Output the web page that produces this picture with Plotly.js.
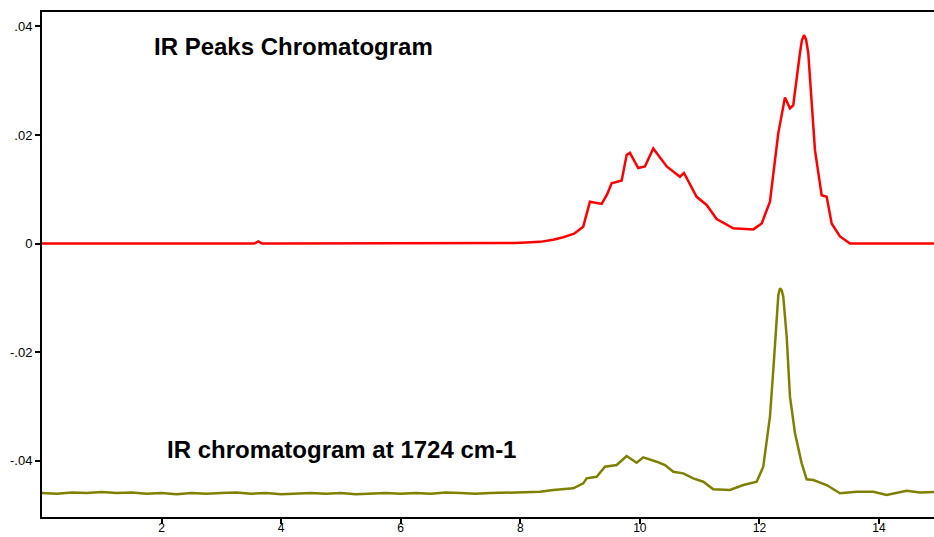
<!DOCTYPE html>
<html>
<head>
<meta charset="utf-8">
<script src="https://cdn.plot.ly/plotly-3.0.1.min.js"></script>
<style>html,body{margin:0;padding:0;background:#fff;}#chart{width:934px;height:537px;}</style>
</head>
<body>
<div id="chart"></div>
<script>
// Retention time (minutes) and absorbance for the IR Peaks chromatogram (red)
const redX = [0, 1, 2, 3, 3.55, 3.62, 3.68, 4, 5, 6,
  7, 7.6, 7.9, 8.1, 8.329, 8.55, 8.719, 8.9, 9.053, 9.165,
  9.361, 9.45, 9.528, 9.696, 9.779, 9.834, 9.973, 10.085, 10.224, 10.449,
  10.671, 10.738, 10.95, 11.117, 11.285, 11.562, 11.897, 12.038, 12.176, 12.315,
  12.427, 12.511, 12.566, 12.678, 12.71, 12.745, 12.78, 12.817, 12.901, 12.929, 13.041, 13.125,
  13.208, 13.347, 13.515, 13.8, 14.2, 14.6, 14.92];
const redY = [0, 0, 0, 0, 0, 0.0004, 0, 0, 0, 0,
  0, 0.00005, 0.0001, 0.0002, 0.0003, 0.0007, 0.00114, 0.0018, 0.0031, 0.0077,
  0.0073, 0.0090, 0.0111, 0.0116, 0.0163, 0.0167, 0.0139, 0.0142, 0.0175, 0.0142,
  0.0123, 0.0130, 0.0086, 0.0071, 0.0045, 0.0028, 0.0026, 0.0037, 0.0077, 0.0203,
  0.0269, 0.0249, 0.0255, 0.0351, 0.0374, 0.0384, 0.0376, 0.0351, 0.0209, 0.0172, 0.0089, 0.0086,
  0.0037, 0.0013, 0, 0, 0, 0, 0];

// IR chromatogram at 1724 cm-1 (olive)
const greenX = [0, 0.25, 0.5, 0.75, 1, 1.25, 1.5, 1.75, 2, 2.25,
  2.5, 2.75, 3, 3.25, 3.5, 3.75, 4, 4.25, 4.5, 4.75,
  5, 5.25, 5.5, 5.75, 6, 6.25, 6.5, 6.75, 7, 7.25,
  7.5, 7.75, 8, 8.15,
  8.329, 8.551, 8.886, 9.053, 9.110, 9.277, 9.416, 9.612, 9.779, 9.946,
  10.057, 10.281, 10.420, 10.559, 10.726, 10.893, 11.061, 11.228, 11.507, 11.730,
  11.954, 12.064, 12.176, 12.232, 12.289, 12.316, 12.344, 12.372, 12.399, 12.456, 12.511, 12.595,
  12.707, 12.790, 12.901, 13.125, 13.347, 13.627, 13.904, 14.128, 14.463, 14.686, 14.92];
const greenY = [-0.0460, -0.0461, -0.0459, -0.0460, -0.0458, -0.0460, -0.0459, -0.0461, -0.0460, -0.0462,
  -0.0460, -0.0461, -0.0460, -0.0459, -0.0461, -0.0460, -0.0462, -0.0461, -0.0460, -0.0461,
  -0.0460, -0.0462, -0.0461, -0.0460, -0.0461, -0.0460, -0.0461, -0.0459, -0.0460, -0.0461,
  -0.0460, -0.0459, -0.0459, -0.0458,
  -0.04575, -0.04543, -0.04512, -0.0442, -0.04327, -0.04298, -0.04114, -0.04082, -0.03916, -0.0404,
  -0.0394, -0.04021, -0.04082, -0.04206, -0.04236, -0.04327, -0.0439, -0.0453, -0.04543, -0.04451,
  -0.0439, -0.04114, -0.03192, -0.02331, -0.01287, -0.0095, -0.00826, -0.0086, -0.0098, -0.01718, -0.02823, -0.03498,
  -0.04051, -0.04346, -0.04359, -0.04451, -0.04604, -0.04575, -0.04575, -0.04635, -0.04556, -0.0459, -0.0458];

const xTickVals = [2, 4, 6, 8, 10, 12, 14];
const xTickText = ["2", "4", "6", "8", "10", "12", "14"];
const yTickVals = [0.04, 0.02, 0, -0.02, -0.04];
const yTickText = [".04", ".02", "0", "-.02", "-.04"];
const label1 = "IR Peaks Chromatogram";
const label2 = "IR chromatogram at 1724 cm-1";

const traces = [
  {x: redX, y: redY, mode: "lines", line: {color: "#ff0000", width: 2.5}, name: label1},
  {x: greenX, y: greenY, mode: "lines", line: {color: "#808000", width: 2.5}, name: label2}
];

const layout = {
  width: 934, height: 537,
  margin: {l: 42, r: 0, t: 12, b: 20, pad: 0},
  paper_bgcolor: "#ffffff", plot_bgcolor: "#ffffff",
  showlegend: false,
  font: {family: "Arial, 'Liberation Sans', sans-serif", size: 13, color: "#000"},
  xaxis: {
    range: [0, 14.92], showgrid: false, zeroline: false,
    showline: true, linecolor: "#000", linewidth: 2, mirror: true,
    ticks: "outside", ticklen: 5, tickwidth: 2, tickcolor: "#000",
    tickvals: xTickVals, ticktext: xTickText, ticklabelstandoff: -6,
    tickfont: {size: 12, color: "#000"}
  },
  yaxis: {
    range: [-0.0504, 0.04266], showgrid: false, zeroline: false,
    showline: true, linecolor: "#000", linewidth: 2,
    ticks: "outside", ticklen: 5, tickwidth: 2, tickcolor: "#000",
    tickvals: yTickVals, ticktext: yTickText,
    tickfont: {size: 13, color: "#000"}
  },
  annotations: [
    {text: label1, xref: "paper", yref: "paper", x: 0.1233, y: 0.9307,
     xanchor: "left", yanchor: "middle", showarrow: false,
     font: {size: 24, family: "Arial, 'Liberation Sans', sans-serif", color: "#000", weight: "bold"}},
    {text: label2, xref: "paper", yref: "paper", x: 0.1379, y: 0.1327,
     xanchor: "left", yanchor: "middle", showarrow: false,
     font: {size: 24, family: "Arial, 'Liberation Sans', sans-serif", color: "#000", weight: "bold"}}
  ]
};

Plotly.newPlot("chart", traces, layout, {staticPlot: true, displayModeBar: false});
</script>
</body>
</html>
